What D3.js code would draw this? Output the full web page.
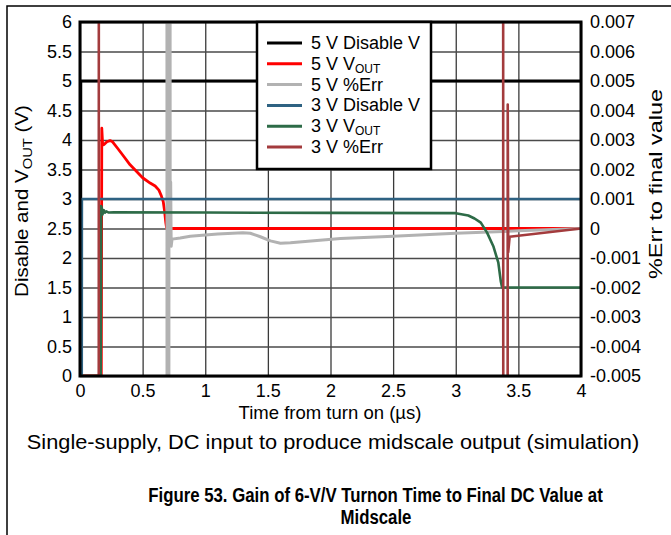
<!DOCTYPE html>
<html><head><meta charset="utf-8">
<script src="https://cdn.jsdelivr.net/npm/d3@7"></script>
<style>
body{margin:0;background:#fff}
svg{display:block}
text{font-family:"Liberation Sans",Arial,Helvetica,sans-serif;fill:#000}
</style>
</head><body>
<svg id="chart" width="671" height="535"></svg>
<script>
// ---------------- data ----------------
const xTicks = [0, 0.5, 1, 1.5, 2, 2.5, 3, 3.5, 4];
const xTickLabels = ["0", "0.5", "1", "1.5", "2", "2.5", "3", "3.5", "4"];
const yLeftTicks = [0, 0.5, 1, 1.5, 2, 2.5, 3, 3.5, 4, 4.5, 5, 5.5, 6];
const yLeftTickLabels = ["0", "0.5", "1", "1.5", "2", "2.5", "3", "3.5", "4", "4.5", "5", "5.5", "6"];
const yRightTicks = [-0.005, -0.004, -0.003, -0.002, -0.001, 0, 0.001, 0.002, 0.003, 0.004, 0.005, 0.006, 0.007];
const yRightTickLabels = ["-0.005", "-0.004", "-0.003", "-0.002", "-0.001", "0", "0.001", "0.002", "0.003", "0.004", "0.005", "0.006", "0.007"];

const legendMain = ["5 V Disable V", "5 V V", "5 V %Err", "3 V Disable V", "3 V V", "3 V %Err"];
const legendSub  = ["", "OUT", "", "", "OUT", ""];

// left axis series (V): [time µs, volts]
const disable5V = [[0, 0], [0.005, 0], [0.006, 5], [4, 5]];
const vout5V = [[0, 0], [0.17, 0], [0.174, 4.2], [0.18, 3.95], [0.19, 3.92], [0.215, 3.97], [0.24, 3.99],
  [0.26, 3.97], [0.3, 3.86], [0.35, 3.72], [0.4, 3.58], [0.45, 3.47], [0.5, 3.36], [0.56, 3.27],
  [0.6, 3.22], [0.63, 3.15], [0.65, 3.05], [0.665, 2.95], [0.675, 2.8], [0.685, 2.6], [0.692, 2.5], [4, 2.5]];
const disable3V = [[0, 0], [0.014, 0], [0.015, 3], [4, 3]];
const vout3V = [[0, 0], [0.165, 0], [0.169, 2.88], [0.175, 2.84], [0.18, 2.74], [0.19, 2.81], [0.2, 2.77],
  [0.21, 2.79], [0.23, 2.77], [0.27, 2.775], [1.0, 2.77], [2.0, 2.765], [3.0, 2.76], [3.1, 2.72],
  [3.15, 2.67], [3.2, 2.6], [3.25, 2.43], [3.3, 2.2], [3.34, 1.92], [3.36, 1.6], [3.37, 1.5], [4, 1.5]];

// right axis series (%Err): [time µs, %err]  (values beyond the axis are off-scale excursions)
const err5V = [[0, 0.05], [0.692, 0.05], [0.697, -0.05], [0.708, -0.05], [0.712, 0.05], [0.716, 0.05],
  [0.72, -0.0004], [0.724, 0.00158], [0.728, -0.0006], [0.735, -0.00036], [0.8, -0.00032], [0.88, -0.00026],
  [1.0, -0.00022], [1.1, -0.00019], [1.22, -0.00016], [1.3, -0.00014], [1.36, -0.00016], [1.44, -0.00028],
  [1.52, -0.00042], [1.6, -0.0005], [1.68, -0.00048], [2.08, -0.00034], [2.5, -0.00026], [3.0, -0.00016],
  [3.5, -0.00008], [4, 0]];
const err3V = [[0, -0.05], [0.148, -0.05], [0.152, 0.05], [3.376, 0.05], [3.382, -0.05], [3.412, -0.05],
  [3.415, 0.0042], [3.419, -0.0008], [3.43, -0.00028], [4, 0]];

const seriesColors = ["#000000", "#ff0000", "#b2b2b2", "#2e6282", "#2d6b47", "#a33b3d"];

// ---------------- layout ----------------
const W = 671, H = 535;
const L = 80, R = 581, T = 22, B = 376;
const svg = d3.select("#chart");

const x = d3.scaleLinear().domain([0, 4]).range([L, R]);
const yL = d3.scaleLinear().domain([0, 6]).range([B, T]);
const yR = d3.scaleLinear().domain([-0.005, 0.007]).range([B, T]);

// outer figure frame
svg.append("path").attr("d", `M7,${H + 2} V6 H${W + 2}`).attr("fill", "none")
  .attr("stroke", "#000").attr("stroke-width", 1.5);

// gridlines
svg.append("g").attr("transform", `translate(0,${B})`)
  .call(d3.axisBottom(x).tickValues(xTicks).tickSize(-(B - T)).tickFormat(""))
  .call(g => g.select(".domain").remove())
  .call(g => g.selectAll("line").attr("stroke", "#3a3a3a").attr("stroke-width", 1.3));
svg.append("g").attr("transform", `translate(${L},0)`)
  .call(d3.axisLeft(yL).tickValues(yLeftTicks).tickSize(-(R - L)).tickFormat(""))
  .call(g => g.select(".domain").remove())
  .call(g => g.selectAll("line").attr("stroke", "#4a4a4a").attr("stroke-width", 1.3));

// tick labels
const axStyle = g => { g.select(".domain").remove(); g.selectAll("line").remove();
  g.selectAll("text").attr("font-size", 18).attr("font-family", "'Liberation Sans',Arial,sans-serif").attr("fill", "#000"); };
svg.append("g").attr("transform", `translate(${L},0)`)
  .call(d3.axisLeft(yL).tickValues(yLeftTicks).tickFormat((d, i) => yLeftTickLabels[i]).tickSize(0).tickPadding(8))
  .call(axStyle);
svg.append("g").attr("transform", `translate(${R},0)`)
  .call(d3.axisRight(yR).tickValues(yRightTicks).tickFormat((d, i) => yRightTickLabels[i]).tickSize(0).tickPadding(9))
  .call(axStyle);
svg.append("g").attr("transform", `translate(0,${B})`)
  .call(d3.axisBottom(x).tickValues(xTicks).tickFormat((d, i) => xTickLabels[i]).tickSize(0).tickPadding(8))
  .call(axStyle);

// clip
svg.append("clipPath").attr("id", "plotclip").append("rect")
  .attr("x", L).attr("y", T).attr("width", R - L).attr("height", B - T);
const plot = svg.append("g").attr("clip-path", "url(#plotclip)");

const lineL = d3.line().x(d => x(d[0])).y(d => yL(d[1]));
const lineR = d3.line().x(d => x(d[0])).y(d => yR(d[1]));

const series = [
  {data: disable5V, line: lineL, color: seriesColors[0], w: 3},
  {data: vout5V, line: lineL, color: seriesColors[1], w: 2.8},
  {data: err5V, line: lineR, color: seriesColors[2], w: 3},
  {data: disable3V, line: lineL, color: seriesColors[3], w: 2.6},
  {data: vout3V, line: lineL, color: seriesColors[4], w: 2.6},
  {data: err3V, line: lineR, color: seriesColors[5], w: 2.6}
];
series.forEach(s => {
  plot.append("path").datum(s.data).attr("d", s.line).attr("fill", "none")
    .attr("stroke", s.color).attr("stroke-width", s.w).attr("stroke-linejoin", "round");
});

// plot frame
svg.append("rect").attr("x", L).attr("y", T).attr("width", R - L).attr("height", B - T)
  .attr("fill", "none").attr("stroke", "#000").attr("stroke-width", 3);

// legend
const lg = svg.append("g");
lg.append("rect").attr("x", 257).attr("y", T).attr("width", 174).attr("height", 147)
  .attr("fill", "#fff").attr("stroke", "#000").attr("stroke-width", 2.5);
legendMain.forEach((name, i) => {
  const yy = 43 + i * 20.8;
  lg.append("line").attr("x1", 267).attr("x2", 302).attr("y1", yy).attr("y2", yy)
    .attr("stroke", seriesColors[i]).attr("stroke-width", 3);
  const t = lg.append("text").attr("x", 311).attr("y", yy + 6).attr("font-size", 18);
  t.append("tspan").text(name);
  if (legendSub[i]) t.append("tspan").attr("dy", 3).attr("font-size", 12).text(legendSub[i]);
});

// helper to place text and fit to measured width
function fitText(t, cx, cy, target, rot) {
  const w = t.node().getBBox().width;
  const s = target / w;
  t.attr("transform", `translate(${cx},${cy}) rotate(${rot || 0}) scale(${s},1)`);
}

// left axis title
const lt = svg.append("text").attr("text-anchor", "middle").attr("dy", "0.35em").attr("font-size", 18);
lt.append("tspan").text("Disable and V");
lt.append("tspan").attr("dy", 4).attr("font-size", 13).text("OUT");
lt.append("tspan").attr("dy", -4).text(" (V)");
fitText(lt, 22, 201, 192, -90);

// right axis title
const rt = svg.append("text").attr("text-anchor", "middle").attr("dy", "0.35em").attr("font-size", 18)
  .text("%Err to final value");
fitText(rt, 656, 184, 190, -90);

// x axis title
const xt = svg.append("text").attr("text-anchor", "middle").attr("dy", "0.35em").attr("font-size", 18)
  .text("Time from turn on (\u00B5s)");
fitText(xt, 330, 413, 183, 0);

// subtitle
const st = svg.append("text").attr("text-anchor", "middle").attr("dy", "0.35em").attr("font-size", 21)
  .text("Single-supply, DC input to produce midscale output (simulation)");
fitText(st, 333, 442, 613, 0);

// caption
const c1 = svg.append("text").attr("text-anchor", "middle").attr("dy", "0.35em").attr("font-size", 21)
  .attr("font-weight", "bold").text("Figure 53. Gain of 6-V/V Turnon Time to Final DC Value at");
fitText(c1, 375.5, 495, 455, 0);
const c2 = svg.append("text").attr("text-anchor", "middle").attr("dy", "0.35em").attr("font-size", 21)
  .attr("font-weight", "bold").text("Midscale");
const c1s = 455 / c1.node().getBBox().width;
c2.attr("transform", `translate(376,517) scale(${c1s},1)`);
</script>
</body></html>
